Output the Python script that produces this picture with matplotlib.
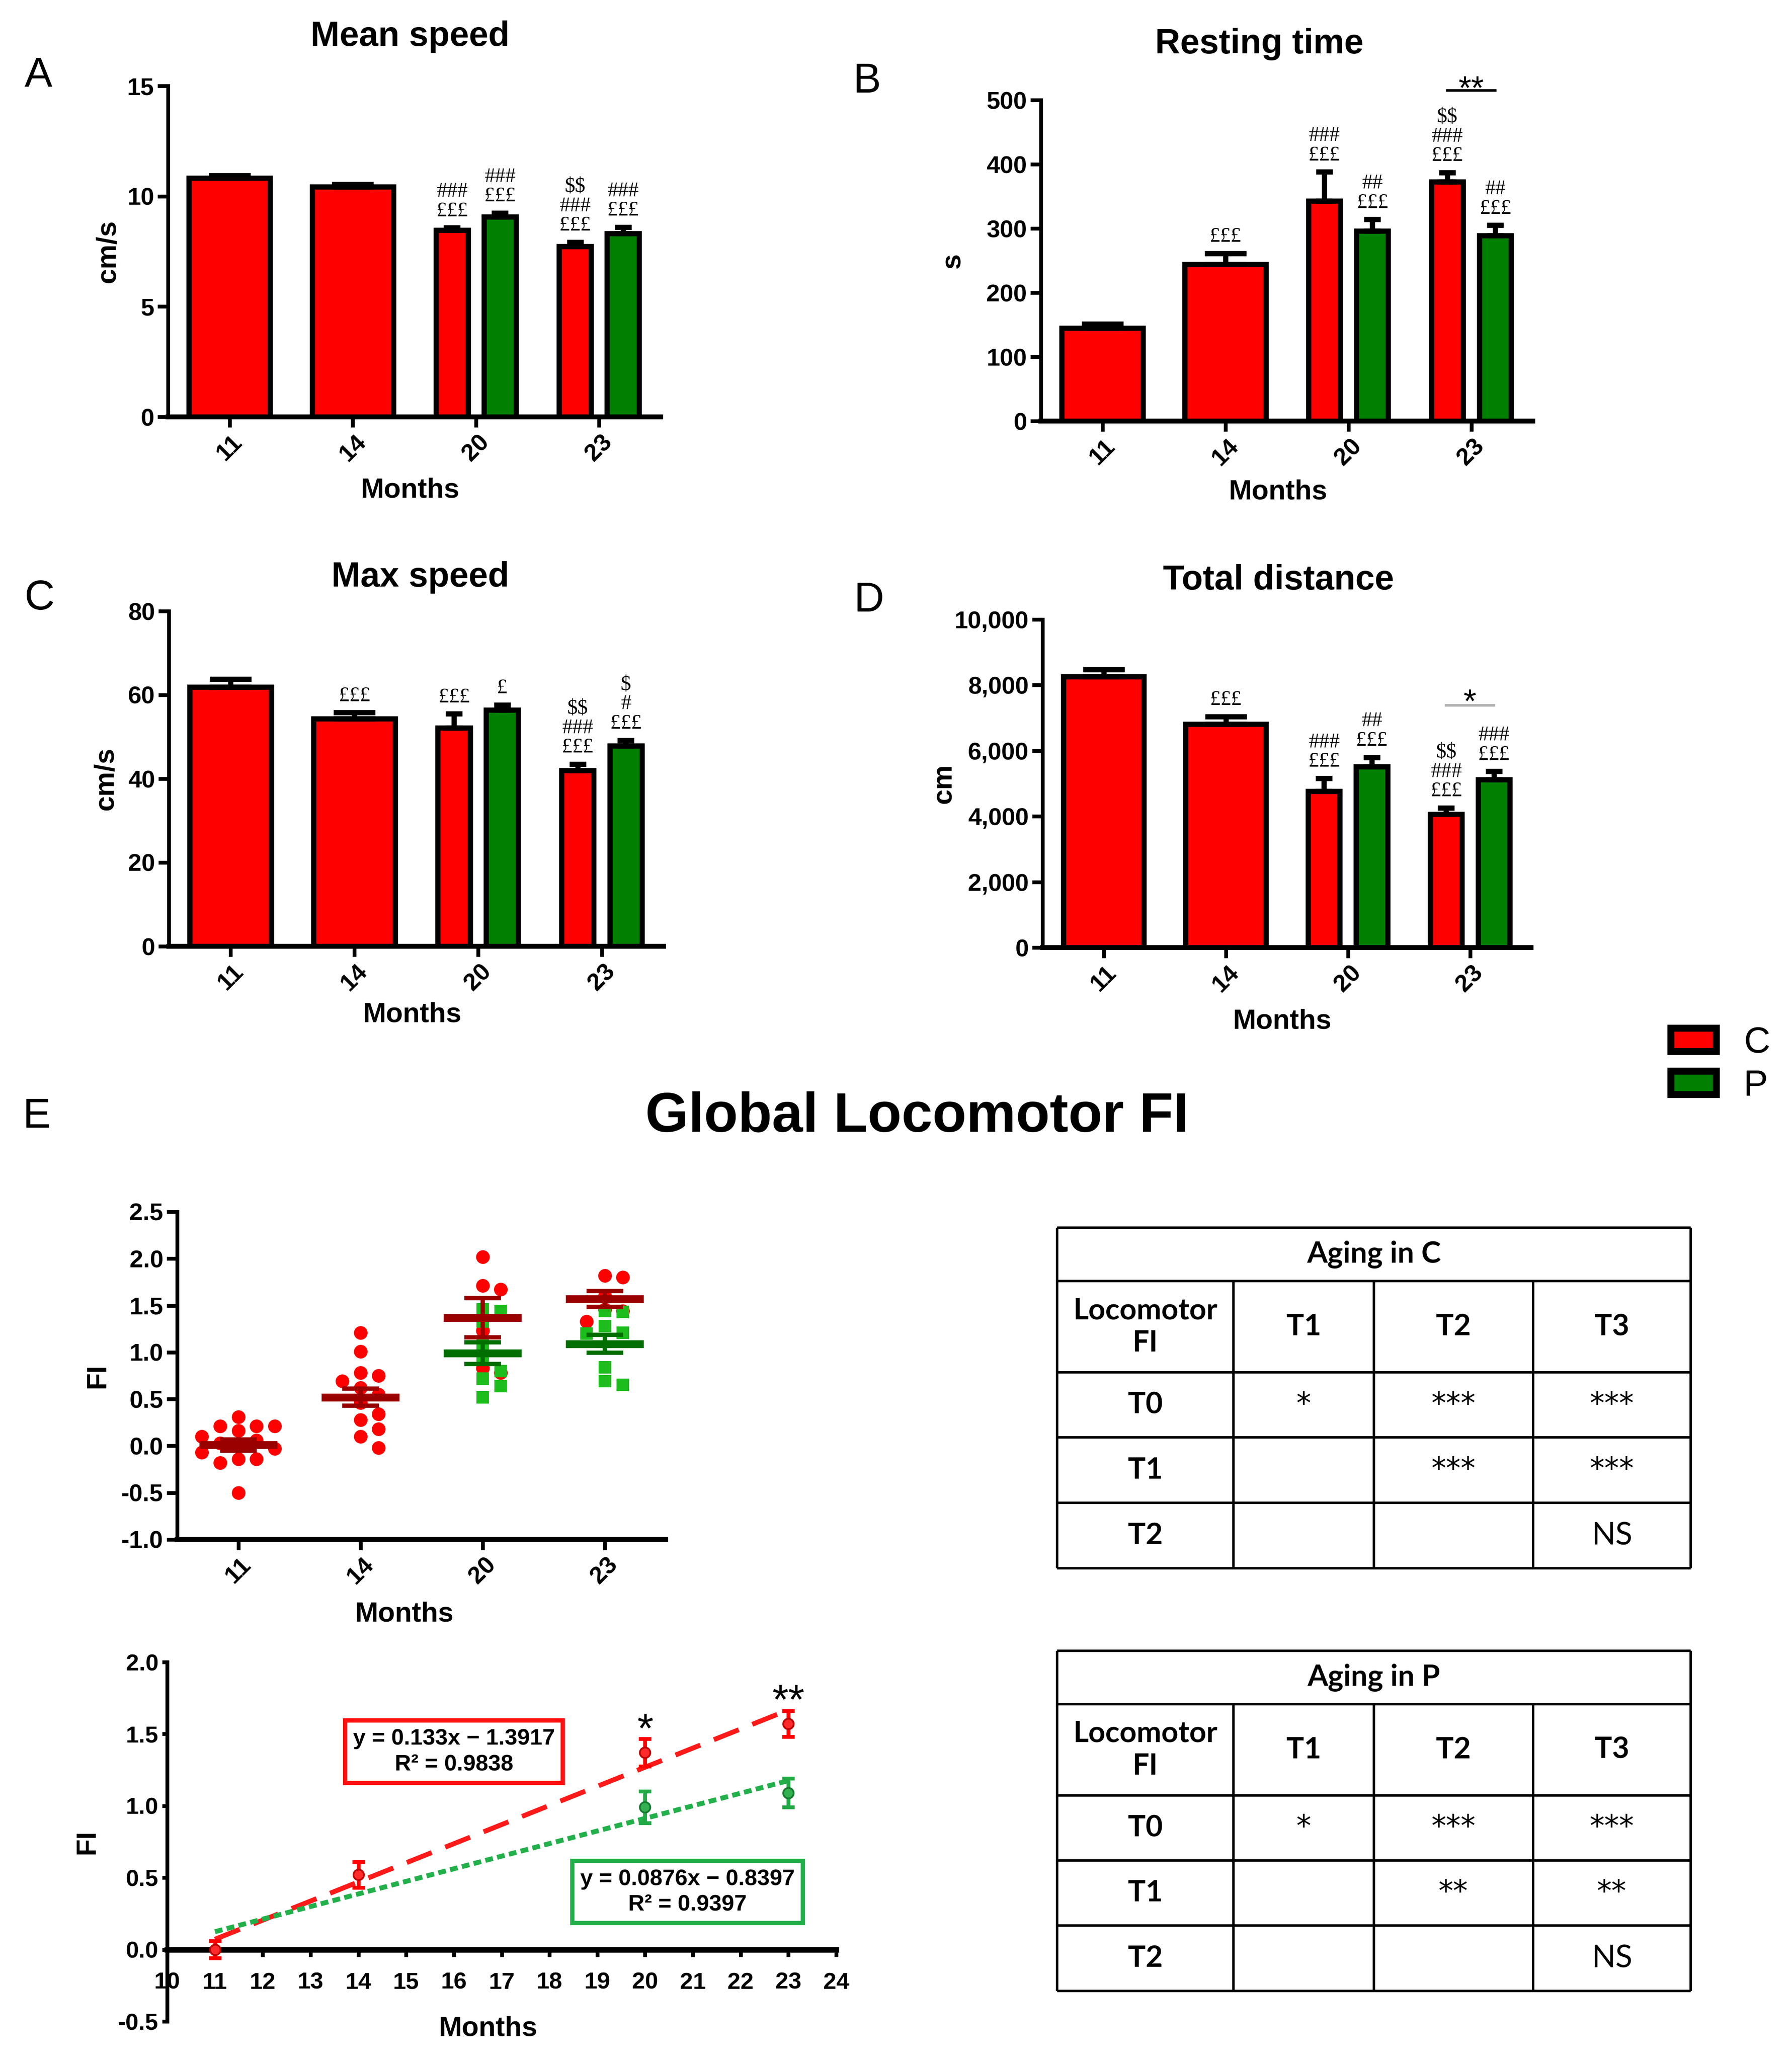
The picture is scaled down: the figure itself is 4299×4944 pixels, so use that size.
import numpy as np
import matplotlib
import matplotlib.pyplot as plt
from matplotlib.ticker import FuncFormatter
from matplotlib.patches import Patch

plt.rcParams['font.family'] = ['Liberation Sans', 'DejaVu Sans']
plt.rcParams['axes.unicode_minus'] = False
plt.rcParams['text.parse_math'] = False

W, H = 4299, 4944
RED = '#ff0000'
GREEN = '#007f00'

months = ['11', '14', '20', '23']

# A - mean speed (cm/s); C at 11,14,20,23 and P at 20,23
speed_c = [10.82, 10.42, 8.47, 7.72]
speed_c_err = [0.12, 0.12, 0.1, 0.2]
speed_p = [9.06, 8.32]
speed_p_err = [0.18, 0.28]
speed_c_sig = ['', '', '###\n£££', '$$\n###\n£££']
speed_p_sig = ['###\n£££', '###\n£££']

# B - resting time (s)
rest_c = [145, 244, 343, 373]
rest_c_err = [6, 17, 45, 14]
rest_p = [296, 289]
rest_p_err = [18, 16]
rest_c_sig = ['', '£££', '###\n£££', '$$\n###\n£££']
rest_p_sig = ['##\n£££', '##\n£££']

# C - max speed (cm/s)
maxs_c = [61.9, 54.3, 52.1, 42.0]
maxs_c_err = [1.9, 1.5, 3.4, 1.5]
maxs_p = [56.4, 47.9]
maxs_p_err = [1.2, 1.3]
maxs_c_sig = ['', '£££', '£££', '$$\n###\n£££']
maxs_p_sig = ['£', '$\n#\n£££']

# D - total distance (cm)
dist_c = [8260, 6810, 4770, 4060]
dist_c_err = [210, 230, 390, 200]
dist_p = [5510, 5120]
dist_p_err = [290, 250]
dist_c_sig = ['', '£££', '###\n£££', '$$\n###\n£££']
dist_p_sig = ['##\n£££', '###\n£££']

# E - frailty index per animal
fi_c_11 = [0.31, 0.21, 0.21, 0.21, 0.16, 0.10, 0.06, 0.03, 0.0, -0.03, -0.07, -0.14, -0.14, -0.18, -0.50]
fi_c_14 = [1.21, 1.01, 0.78, 0.75, 0.69, 0.62, 0.55, 0.46, 0.34, 0.28, 0.18, 0.10, -0.02]
fi_c_20 = [2.02, 1.71, 1.67, 1.23, 0.83, 0.78]
fi_c_23 = [1.82, 1.80, 1.60, 1.46, 1.44, 1.33]
fi_p_20 = [1.46, 1.44, 1.33, 1.08, 0.92, 0.80, 0.72, 0.64, 0.52]
fi_p_23 = [1.44, 1.43, 1.28, 1.21, 1.20, 0.84, 0.69, 0.65]
fi_c_mean = [0.01, 0.52, 1.37, 1.57]
fi_c_sem = [0.06, 0.09, 0.21, 0.085]
fi_p_mean = [0.99, 1.09]
fi_p_sem = [0.115, 0.095]

# E - trend over months
trend_months_c = [11, 14, 20, 23]
trend_c = [0.0, 0.52, 1.37, 1.57]
trend_c_err = [0.06, 0.09, 0.095, 0.09]
trend_months_p = [20, 23]
trend_p = [0.99, 1.09]
trend_p_err = [0.11, 0.1]
fit_c = (0.133, -1.3917, 0.9838)
fit_p = (0.0876, -0.8397, 0.9397)

tab_cols = ['T1', 'T2', 'T3']
tab_rows = ['T0', 'T1', 'T2']
aging_c = [['*', '***', '***'], ['', '***', '***'], ['', '', 'NS']]
aging_p = [['*', '***', '***'], ['', '**', '**'], ['', '', 'NS']]

fig = plt.figure(figsize=(W / 300, H / 300), dpi=300)


def px_rect(l, t, r, b):
    return [l / W, 1 - b / H, (r - l) / W, (b - t) / H]


def ftext(x, y, s, **kw):
    fig.text(x / W, 1 - y / H, s, **kw)


def place_labels(ax, box, ylab_x, xlab_x, xlab_y):
    l, t, r, b = box
    ax.yaxis.set_label_coords((ylab_x - l) / (r - l), 0.5)
    ax.xaxis.set_label_coords((xlab_x - l) / (r - l), (b - xlab_y) / (b - t))


def base_style(ax, lw=2.2):
    for s in ['top', 'right']:
        ax.spines[s].set_visible(False)
    ax.spines['left'].set_linewidth(lw)
    ax.spines['bottom'].set_linewidth(lw + 0.6)
    ax.tick_params(width=lw, length=6, labelsize=14, pad=2)


def bar_panel(box, cv, ce, pv, pe, csig, psig, top, step, ylabel, ylab_x, xlab_pos, fmt=None):
    ax = fig.add_axes(px_rect(*box))
    x = np.arange(len(months))
    xc = np.array([0, 1, 2 - 0.195, 3 - 0.195])
    wc = [0.66, 0.66, 0.26, 0.26]
    xp = np.array([2 + 0.195, 3 + 0.195])
    ax.bar(xc, cv, width=wc, color=RED, edgecolor='black', linewidth=3, zorder=2)
    ax.bar(xp, pv, width=0.26, color=GREEN, edgecolor='black', linewidth=3, zorder=2)
    for xs, vs, es, ss in [(xc, cv, ce, csig), (xp, pv, pe, psig)]:
        for i in range(len(xs)):
            cs = 12 if (xs is xc and i < 2) else 4.8
            ax.errorbar(xs[i], vs[i], yerr=[[0], [es[i]]], fmt='none', ecolor='black',
                        elinewidth=3, capsize=cs, capthick=3, zorder=3, clip_on=False)
            if ss[i]:
                ax.annotate(ss[i], (xs[i], vs[i] + es[i]), xytext=(0, 4), textcoords='offset points',
                            ha='center', va='bottom', fontsize=12, linespacing=1.0,
                            family=['Liberation Serif', 'DejaVu Serif'], annotation_clip=False)
    ax.set_xlim(-0.5, 3.5)
    ax.set_ylim(0, top)
    ax.set_yticks(np.arange(0, top + step / 2, step))
    if fmt:
        ax.yaxis.set_major_formatter(FuncFormatter(fmt))
    ax.set_xticks(x)
    ax.set_xticklabels(months, rotation=45, ha='center')
    base_style(ax)
    for lab in ax.get_xticklabels() + ax.get_yticklabels():
        lab.set_fontweight('bold')
    ax.set_ylabel(ylabel, fontsize=16, fontweight='bold', va='center')
    ax.set_xlabel('Months', fontsize=16, fontweight='bold', va='center')
    place_labels(ax, box, ylab_x, *xlab_pos)
    return ax


def sig_line(ax, x0, x1, y, text, color, off):
    ax.plot([x0, x1], [y, y], color=color, lw=1.5, clip_on=False)
    ax.annotate(text, ((x0 + x1) / 2, y), xytext=(0, off), textcoords='offset points',
                ha='center', va='baseline', fontsize=19, annotation_clip=False)


# panels A-D
box_a = (403, 206, 1585, 1000)
bar_panel(box_a, speed_c, speed_c_err, speed_p, speed_p_err, speed_c_sig, speed_p_sig,
          15, 5, 'cm/s', 259, (984, 1177))
box_b = (2497, 240, 3677, 1010)
ax_b = bar_panel(box_b, rest_c, rest_c_err, rest_p, rest_p_err, rest_c_sig, rest_p_sig,
                 500, 100, 's', 2286, (3066, 1181))
sig_line(ax_b, 2.805, 3.195, 515, '**', 'black', -5)
box_c = (405, 1466, 1592, 2270)
bar_panel(box_c, maxs_c, maxs_c_err, maxs_p, maxs_p_err, maxs_c_sig, maxs_p_sig,
          80, 20, 'cm/s', 254, (989, 2434))
box_d = (2501, 1486, 3673, 2273)
ax_d = bar_panel(box_d, dist_c, dist_c_err, dist_p, dist_p_err, dist_c_sig, dist_p_sig,
                 10000, 2000, 'cm', 2265, (3076, 2450), fmt=lambda v, p: '{:,.0f}'.format(v))
sig_line(ax_d, 2.805, 3.195, 7380, '*', '#b0b0b0', -4)

ftext(984, 88, 'Mean speed', ha='center', va='center', fontsize=20, fontweight='bold')
ftext(3021, 106, 'Resting time', ha='center', va='center', fontsize=20, fontweight='bold')
ftext(1008, 1385, 'Max speed', ha='center', va='center', fontsize=20, fontweight='bold')
ftext(3067, 1392, 'Total distance', ha='center', va='center', fontsize=20, fontweight='bold')
for (lx, ly, letter) in [(92, 182, 'A'), (2080, 196, 'B'), (95, 1436, 'C'), (2085, 1441, 'D'), (88, 2679, 'E')]:
    ftext(lx, ly, letter, ha='center', va='center', fontsize=24)

# legend
handles = [Patch(facecolor=RED, edgecolor='black', linewidth=4, joinstyle='round', label='C'),
           Patch(facecolor=GREEN, edgecolor='black', linewidth=4, joinstyle='round', label='P')]
fig.legend(handles=handles, loc='upper left', bbox_to_anchor=(4008 / W, 1 - 2462 / H), frameon=False,
           fontsize=21, handlelength=1.25, handleheight=0.6, handletextpad=0.75, labelspacing=0.25,
           borderpad=0, borderaxespad=0)

ftext(2200, 2680, 'Global Locomotor FI', ha='center', va='center', fontsize=32, fontweight='bold')


# E - scatter with mean and SEM
def swarm(vals, step, ppx, ppy, diam):
    vals = np.asarray(vals, dtype=float)
    xs = np.zeros(len(vals))
    placed = []
    for i in np.argsort(-vals):
        k = 0
        chosen = None
        while chosen is None:
            cands = [0.0] if k == 0 else [k * step, -k * step]
            for c in cands:
                if all(np.hypot((c - px) * ppx, (vals[i] - py) * ppy) >= diam for px, py in placed):
                    chosen = c
                    break
            k += 1
        xs[i] = chosen
        placed.append((chosen, vals[i]))
    return xs


box_s = (425, 2907, 1597, 3693)
ax_s = fig.add_axes(px_rect(*box_s))
ppx = (box_s[2] - box_s[0]) / 4.0
ppy = (box_s[3] - box_s[1]) / 3.5
for pos, vals in enumerate([fi_c_11, fi_c_14, fi_c_20, fi_c_23]):
    ax_s.scatter(pos + swarm(vals, 0.15, ppx, ppy, 31), vals, s=62, color=RED, marker='o',
                 linewidths=0, zorder=2)
for pos, vals in zip([2, 3], [fi_p_20, fi_p_23]):
    ax_s.scatter(pos + swarm(vals, 0.15, ppx, ppy, 29), vals, s=50, color='#1cbd1c', marker='s',
                 linewidths=0, zorder=3)
xs_c = np.arange(4)
xs_p = np.array([2, 3])
for xs, m, e, col in [(xs_p, fi_p_mean, fi_p_sem, '#006e00'), (xs_c, fi_c_mean, fi_c_sem, '#990000')]:
    ax_s.hlines(m, xs - 0.32, xs + 0.32, colors=col, lw=4.5, zorder=4)
    ax_s.errorbar(xs, m, yerr=e, fmt='none', ecolor=col, elinewidth=2.5, capsize=10.5,
                  capthick=2.5, zorder=4)
ax_s.set_xlim(-0.5, 3.5)
ax_s.set_ylim(-1.0, 2.5)
ax_s.set_yticks(np.arange(-1.0, 2.51, 0.5))
ax_s.yaxis.set_major_formatter(FuncFormatter(lambda v, p: '%.1f' % v))
ax_s.set_xticks(xs_c)
ax_s.set_xticklabels(months, rotation=45, ha='center')
base_style(ax_s)
for lab in ax_s.get_xticklabels() + ax_s.get_yticklabels():
    lab.set_fontweight('bold')
ax_s.set_ylabel('FI', fontsize=16, fontweight='bold', va='center')
ax_s.set_xlabel('Months', fontsize=16, fontweight='bold', va='center')
place_labels(ax_s, box_s, 234, 970, 3872)

# E - linear trends
box_l = (401, 3987, 2006, 4849)
ax_l = fig.add_axes(px_rect(*box_l))
xfit = np.array([11, 23])
ax_l.plot(xfit, fit_c[0] * xfit + fit_c[1], color='#ff1a1a', lw=2.8, ls=(0, (5.5, 3)), zorder=2)
ax_l.plot(xfit, fit_p[0] * xfit + fit_p[1], color='#22b04a', lw=2.8, ls=(0, (1.6, 0.9)), zorder=2)
ax_l.errorbar(trend_months_c, trend_c, yerr=trend_c_err, fmt='o', color='#ff0000', mfc='#ff2a2a',
              mec='#c00000', ms=6, elinewidth=2.2, capsize=3.5, capthick=2.2, zorder=3, clip_on=False)
ax_l.errorbar(trend_months_p, trend_p, yerr=trend_p_err, fmt='o', color='#22a845', mfc='#33b050',
              mec='#167a30', ms=6, elinewidth=2.2, capsize=3.5, capthick=2.2, zorder=3)
ax_l.text(20, 1.44, '*', ha='center', va='baseline', fontsize=24)
ax_l.text(23, 1.64, '**', ha='center', va='baseline', fontsize=24)
ax_l.text(16.0, 1.376, 'y = %.3fx − %.4f\nR² = %.4f' % (fit_c[0], -fit_c[1], fit_c[2]),
          ha='center', va='center', fontsize=13, fontweight='bold', linespacing=1.3,
          bbox=dict(boxstyle='square,pad=0.35', fc='white', ec='#ff1010', lw=2.5))
ax_l.text(20.89, 0.40, 'y = %.4fx − %.4f\nR² = %.4f' % (fit_p[0], -fit_p[1], fit_p[2]),
          ha='center', va='center', fontsize=13, fontweight='bold', linespacing=1.3,
          bbox=dict(boxstyle='square,pad=0.35', fc='white', ec='#22b04a', lw=2.5))
ax_l.set_xlim(10, 24)
ax_l.set_ylim(-0.5, 2.0)
ax_l.spines['bottom'].set_position(('data', 0))
ax_l.set_xticks(np.arange(10, 25))
ax_l.set_yticks(np.arange(-0.5, 2.01, 0.5))
ax_l.yaxis.set_major_formatter(FuncFormatter(lambda v, p: '%.1f' % v))
base_style(ax_l)
ax_l.spines['bottom'].set_linewidth(3.2)
ax_l.tick_params(axis='x', length=4, pad=9, labelsize=13.5)
ax_l.tick_params(axis='y', length=3, labelsize=13.5)
for lab in ax_l.get_xticklabels() + ax_l.get_yticklabels():
    lab.set_fontweight('bold')
ax_l.set_ylabel('FI', fontsize=16, fontweight='bold', va='center')
ax_l.set_xlabel('Months', fontsize=16, fontweight='bold', va='center')
place_labels(ax_l, box_l, 209, 1171, 4867)


# tables
def draw_table(box, title, cells):
    ax = fig.add_axes(px_rect(*box))
    ax.set_axis_off()
    ax.set_xlim(0, 1)
    ax.set_ylim(1, 0)
    xs = [0, 0.278, 0.5, 0.751, 1]
    ys = [0, 0.157, 0.425, 0.616, 0.808, 1]
    kw = dict(color='black', lw=1.4, clip_on=False)
    ax.hlines(ys, 0, 1, **kw)
    ax.vlines([0, 1], 0, 1, **kw)
    ax.vlines(xs[1:-1], ys[1], 1, **kw)
    fam = ['Lato', 'DejaVu Sans']
    ax.text(0.5, ys[1] / 2, title, ha='center', va='center', fontsize=17, fontweight='bold', family=fam)
    ax.text(xs[0] / 2 + xs[1] / 2, (ys[1] + ys[2]) / 2, 'Locomotor\nFI', ha='center', va='center',
            fontsize=17, fontweight='bold', family=fam, linespacing=1.25)
    for j, c in enumerate(tab_cols):
        ax.text((xs[j + 1] + xs[j + 2]) / 2, (ys[1] + ys[2]) / 2, c, ha='center', va='center',
                fontsize=17, fontweight='bold', family=fam)
    for i, r in enumerate(tab_rows):
        yc = (ys[i + 2] + ys[i + 3]) / 2
        ax.text((xs[0] + xs[1]) / 2, yc, r, ha='center', va='center', fontsize=17,
                fontweight='bold', family=fam)
        for j, v in enumerate(cells[i]):
            if v == 'NS':
                ax.text((xs[j + 1] + xs[j + 2]) / 2, yc, v, ha='center', va='center',
                        fontsize=18, family=fam)
            elif v:
                ax.text((xs[j + 1] + xs[j + 2]) / 2, yc, v, ha='center', va='center',
                        fontsize=17, family=['DejaVu Sans'])


draw_table((2536, 2945, 4056, 3762), 'Aging in C', aging_c)
draw_table((2536, 3960, 4056, 4776), 'Aging in P', aging_p)

fig.savefig('out.png', dpi=300)
